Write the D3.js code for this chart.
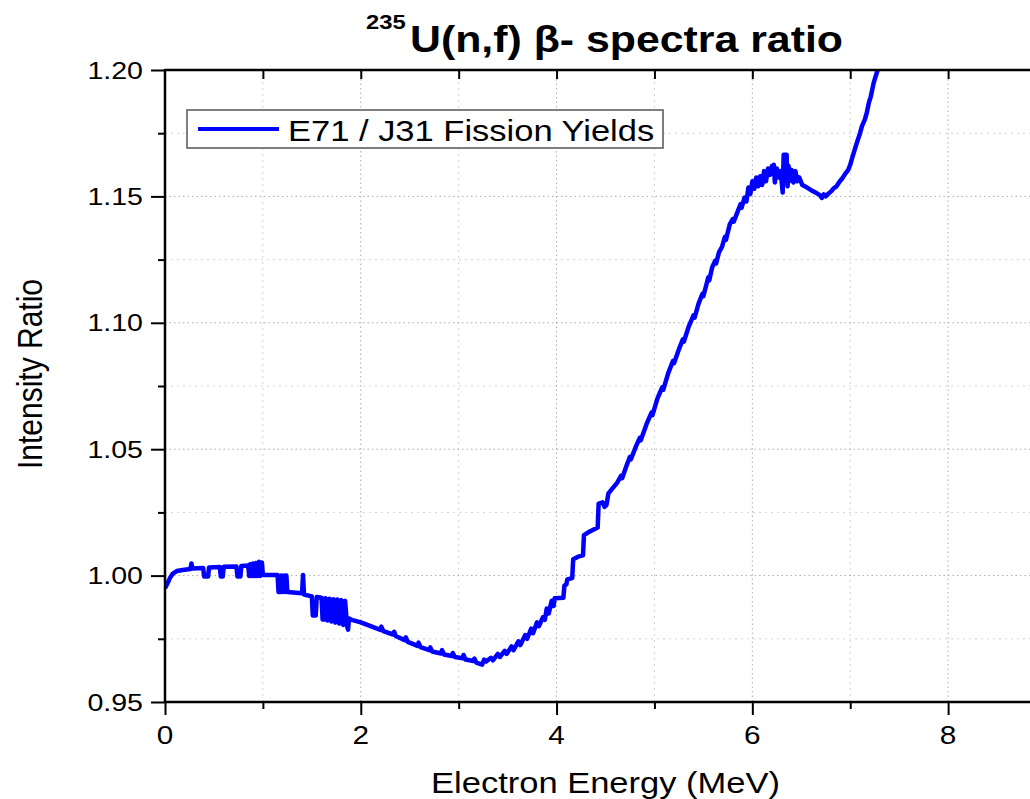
<!DOCTYPE html>
<html lang="en">
<head>
<meta charset="UTF-8">
<script src="https://d3js.org/d3.v7.min.js"></script>
<title>235U(n,f) beta- spectra ratio</title>
<style>
  body { margin: 0; padding: 0; background: #fff; }
  svg { display: block; background: #fff; }
  text { font-family: Arial, "Liberation Sans", sans-serif; fill: #000; }
</style>
</head>
<body>
<div id="chart"></div>
<script>
// electron energy (MeV) and E71/J31 intensity ratio
const energy = [
  0.00, 0.02, 0.05, 0.08, 0.12, 0.18, 0.26, 0.27, 0.28, 0.39,
  0.40, 0.44, 0.45, 0.56, 0.57, 0.59, 0.60, 0.73, 0.74, 0.77,
  0.78, 0.85, 0.86, 0.87, 0.88, 0.90, 0.91, 0.93, 0.94, 0.96,
  0.97, 0.99,
  1.00, 1.15, 1.16, 1.18, 1.19, 1.20, 1.22, 1.23, 1.24, 1.25,
  1.40, 1.41, 1.42, 1.50, 1.51, 1.54, 1.55, 1.60, 1.61, 1.63,
  1.64, 1.66, 1.68, 1.70, 1.72, 1.74, 1.76, 1.78, 1.80, 1.82,
  1.84, 1.86, 1.87, 1.88, 1.90,
  2.00, 2.10, 2.20, 2.21, 2.23, 2.33, 2.34, 2.36, 2.45, 2.46,
  2.48, 2.58, 2.59, 2.61, 2.70, 2.71, 2.73, 2.82, 2.83, 2.85,
  2.93, 2.94, 2.96, 3.04, 3.05, 3.07, 3.15, 3.16, 3.18, 3.24,
  3.26, 3.28, 3.33, 3.35, 3.40, 3.42, 3.47, 3.49, 3.54, 3.56,
  3.61, 3.63, 3.68, 3.70, 3.74, 3.76, 3.80, 3.82, 3.86, 3.88,
  3.90, 3.92, 3.95, 3.97, 3.98, 4.07, 4.08, 4.10, 4.11, 4.16,
  4.17, 4.22, 4.27, 4.28, 4.32, 4.42, 4.43, 4.47, 4.49, 4.51,
  4.53, 4.62,
  4.66, 4.67, 4.72, 4.75, 4.76, 4.81, 4.85, 4.86, 4.92, 4.97,
  4.98, 5.03, 5.08, 5.09, 5.14, 5.19, 5.20, 5.25, 5.29, 5.30,
  5.35, 5.40, 5.41, 5.45, 5.49, 5.50, 5.55, 5.56, 5.59, 5.62,
  5.63, 5.66, 5.69, 5.72, 5.73, 5.77, 5.80, 5.81, 5.85, 5.88,
  5.89, 5.92, 5.94, 5.96, 5.98, 6.00, 6.02, 6.04, 6.06, 6.08,
  6.10, 6.12, 6.14, 6.16, 6.18, 6.20, 6.21, 6.22, 6.23, 6.25,
  6.27, 6.29, 6.31, 6.32, 6.35, 6.36, 6.37, 6.38, 6.40, 6.42,
  6.44, 6.46, 6.48, 6.51, 6.56, 6.62, 6.66, 6.69, 6.71, 6.73,
  6.75, 6.78, 6.81, 6.83, 6.86, 6.89, 6.92, 6.95, 6.98, 7.00,
  7.02, 7.05, 7.07, 7.10, 7.12, 7.15, 7.17, 7.19, 7.21, 7.24,
  7.28, 7.32
];
const ratio = [
  0.9950, 0.9965, 0.9990, 1.0008, 1.0018, 1.0022, 1.0026, 1.0048, 1.0028, 1.0030,
  0.9996, 0.9996, 1.0032, 1.0034, 0.9996, 0.9996, 1.0035, 1.0036, 0.9996, 0.9996,
  1.0038, 1.0040, 0.9998, 1.0045, 0.9998, 1.0048, 0.9998, 1.0050, 0.9998, 1.0055,
  0.9998, 1.0052,
  1.0002, 1.0002, 0.9935, 0.9935, 1.0000, 0.9935, 1.0000, 0.9935, 1.0000, 0.9935,
  0.9930, 1.0002, 0.9925, 0.9918, 0.9842, 0.9842, 0.9915, 0.9912, 0.9826, 0.9826,
  0.9910, 0.9822, 0.9908, 0.9818, 0.9906, 0.9814, 0.9905, 0.9810, 0.9903, 0.9805,
  0.9900, 0.9800, 0.9786, 0.9830, 0.9826,
  0.9815, 0.9800, 0.9785, 0.9798, 0.9780, 0.9767, 0.9778, 0.9760, 0.9745, 0.9756,
  0.9738, 0.9722, 0.9735, 0.9717, 0.9705, 0.9716, 0.9700, 0.9692, 0.9705, 0.9688,
  0.9682, 0.9694, 0.9678, 0.9673, 0.9686, 0.9668, 0.9662, 0.9672, 0.9656, 0.9648,
  0.9668, 0.9660, 0.9675, 0.9665, 0.9690, 0.9678, 0.9702, 0.9690, 0.9720, 0.9705,
  0.9740, 0.9725, 0.9765, 0.9750, 0.9790, 0.9772, 0.9815, 0.9800, 0.9835, 0.9825,
  0.9870, 0.9850, 0.9900, 0.9880, 0.9910, 0.9912, 0.9960, 0.9965, 0.9985, 0.9990,
  1.0065, 1.0075, 1.0080, 1.0160, 1.0170, 1.0190, 1.0285, 1.0290, 1.0272, 1.0280,
  1.0325, 1.0368,
  1.0395, 1.0385, 1.0440, 1.0470, 1.0460, 1.0510, 1.0545, 1.0535, 1.0600, 1.0645,
  1.0635, 1.0700, 1.0745, 1.0735, 1.0800, 1.0850, 1.0840, 1.0895, 1.0935, 1.0925,
  1.0985, 1.1030, 1.1020, 1.1075, 1.1115, 1.1105, 1.1180, 1.1168, 1.1220, 1.1245,
  1.1235, 1.1280, 1.1300, 1.1340, 1.1328, 1.1390, 1.1410, 1.1400, 1.1440, 1.1470,
  1.1455, 1.1495, 1.1480, 1.1535, 1.1510, 1.1560, 1.1530, 1.1575, 1.1540, 1.1580,
  1.1545, 1.1600, 1.1560, 1.1610, 1.1585, 1.1620, 1.1590, 1.1625, 1.1555, 1.1610,
  1.1575, 1.1600, 1.1515, 1.1665, 1.1665, 1.1540, 1.1620, 1.1560, 1.1605, 1.1555,
  1.1600, 1.1560, 1.1575, 1.1545, 1.1535, 1.1520, 1.1512, 1.1505, 1.1494, 1.1508,
  1.1500, 1.1512, 1.1522, 1.1532, 1.1540, 1.1558, 1.1572, 1.1590, 1.1605, 1.1625,
  1.1652, 1.1690, 1.1715, 1.1750, 1.1778, 1.1805, 1.1832, 1.1870, 1.1895, 1.1950,
  1.2000, 1.2060
];

const xMajor = [0, 2, 4, 6, 8];
const xMinor = [1, 3, 5, 7];
const yMajor = [0.95, 1.00, 1.05, 1.10, 1.15, 1.20];
const yMinor = [0.975, 1.025, 1.075, 1.125, 1.175];
const seriesName = ["E71 / J31 Fission Yields"];

const W = 1030, H = 799;
const box = { left: 165, right: 1046, top: 70, bottom: 702 };
const SX = 1.19; // the picture is a bit wider than tall, stretch text to match

const svg = d3.select("#chart").append("svg")
  .attr("width", W).attr("height", H);

const x = d3.scaleLinear().domain([0, 9]).range([box.left, box.right]);
const y = d3.scaleLinear().domain([0.95, 1.20]).range([box.bottom, box.top]);

// grid, minor first then major
const grid = svg.append("g");
grid.selectAll(".gxm").data(xMinor).enter().append("line")
  .attr("x1", d => x(d)).attr("x2", d => x(d))
  .attr("y1", box.top).attr("y2", box.bottom)
  .attr("stroke", "#d4d4d4").attr("stroke-dasharray", "2,4");
grid.selectAll(".gym").data(yMinor).enter().append("line")
  .attr("x1", box.left).attr("x2", box.right)
  .attr("y1", d => y(d)).attr("y2", d => y(d))
  .attr("stroke", "#d4d4d4").attr("stroke-dasharray", "2,4");
grid.selectAll(".gx").data(xMajor.slice(1)).enter().append("line")
  .attr("x1", d => x(d)).attr("x2", d => x(d))
  .attr("y1", box.top).attr("y2", box.bottom)
  .attr("stroke", "#aaa").attr("stroke-dasharray", "1.5,3");
grid.selectAll(".gy").data(yMajor.slice(1, -1)).enter().append("line")
  .attr("x1", box.left).attr("x2", box.right)
  .attr("y1", d => y(d)).attr("y2", d => y(d))
  .attr("stroke", "#aaa").attr("stroke-dasharray", "1.5,3");

// curve
svg.append("clipPath").attr("id", "clip").append("rect")
  .attr("x", box.left).attr("y", box.top)
  .attr("width", box.right - box.left).attr("height", box.bottom - box.top);

const line = d3.line()
  .x((d, i) => x(energy[i]))
  .y((d, i) => y(ratio[i]));

svg.append("path")
  .datum(energy)
  .attr("clip-path", "url(#clip)")
  .attr("d", line)
  .attr("fill", "none")
  .attr("stroke", "#0000ff")
  .attr("stroke-width", 4.5)
  .attr("stroke-linejoin", "round");

// axes (ticks only, labels drawn below)
function styleAxis(g) {
  g.select(".domain").remove();
  g.selectAll(".tick line").attr("stroke", "#000").attr("stroke-width", 2);
}
svg.append("g").attr("transform", `translate(0,${box.bottom})`)
  .call(d3.axisBottom(x).tickValues(xMajor).tickSize(13).tickFormat(""))
  .call(styleAxis);
svg.append("g").attr("transform", `translate(0,${box.bottom})`)
  .call(d3.axisBottom(x).tickValues(xMinor).tickSize(7).tickFormat(""))
  .call(styleAxis);
svg.append("g").attr("transform", `translate(0,${box.top})`)
  .call(d3.axisBottom(x).tickValues(d3.range(1, 9)).tickSize(9).tickFormat(""))
  .call(styleAxis);
svg.append("g").attr("transform", `translate(${box.left},0)`)
  .call(d3.axisLeft(y).tickValues(yMajor).tickSize(14).tickFormat(""))
  .call(styleAxis);
svg.append("g").attr("transform", `translate(${box.left},0)`)
  .call(d3.axisLeft(y).tickValues(yMinor).tickSize(7).tickFormat(""))
  .call(styleAxis);

// axis lines
const frame = svg.append("g").attr("stroke", "#000").attr("stroke-width", 2.5);
frame.append("line").attr("x1", box.left).attr("x2", box.left).attr("y1", box.top - 1).attr("y2", box.bottom + 1);
frame.append("line").attr("x1", box.left).attr("x2", box.right).attr("y1", box.bottom).attr("y2", box.bottom);
frame.append("line").attr("x1", box.left).attr("x2", box.right).attr("y1", box.top).attr("y2", box.top);

// tick labels
svg.selectAll(".xl").data(xMajor).enter().append("text")
  .attr("transform", d => `translate(${x(d)},744) scale(${SX},1)`)
  .attr("text-anchor", "middle").attr("font-size", 25)
  .text(d => d);
svg.selectAll(".yl").data(yMajor).enter().append("text")
  .attr("transform", d => `translate(143,${y(d)}) scale(${SX},1)`)
  .attr("text-anchor", "end").attr("dy", "0.36em").attr("font-size", 24)
  .text(d => d3.format(".2f")(d));

// axis titles
svg.append("text")
  .attr("transform", `translate(${(box.left + box.right) / 2},793) scale(${SX},1)`)
  .attr("text-anchor", "middle").attr("font-size", 29)
  .text("Electron Energy (MeV)");
svg.append("text")
  .attr("transform", `translate(42,374) scale(${SX},1) rotate(-90)`)
  .attr("text-anchor", "middle").attr("font-size", 30)
  .text("Intensity Ratio");

// title
svg.append("text")
  .attr("transform", `translate(366,29) scale(${SX},1)`)
  .attr("font-size", 20).attr("font-weight", "bold")
  .text("235");
svg.append("text")
  .attr("transform", `translate(410,52) scale(${SX},1)`)
  .attr("font-size", 36).attr("font-weight", "bold")
  .text("U(n,f) β- spectra ratio");

// legend
const lg = svg.append("g");
lg.append("rect")
  .attr("x", 187).attr("y", 110).attr("width", 476).attr("height", 38)
  .attr("fill", "#fff").attr("stroke", "#555").attr("stroke-width", 1.5);
lg.append("line")
  .attr("x1", 198).attr("x2", 279).attr("y1", 129).attr("y2", 129)
  .attr("stroke", "#0000ff").attr("stroke-width", 4);
lg.selectAll(".lt").data(seriesName).enter().append("text")
  .attr("transform", `translate(288,141) scale(${SX},1)`)
  .attr("font-size", 29)
  .text(d => d);
</script>
</body>
</html>
